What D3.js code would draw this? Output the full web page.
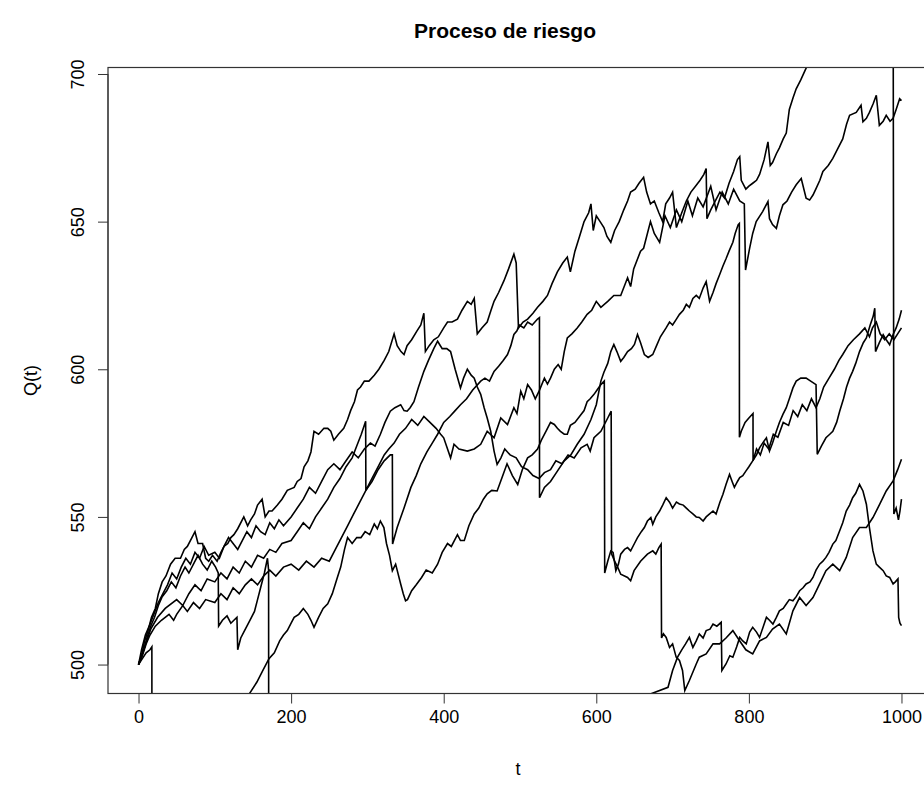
<!DOCTYPE html>
<html>
<head>
<meta charset="utf-8">
<script src="https://cdn.jsdelivr.net/npm/d3@7.9.0/dist/d3.min.js"></script>
<style>
  body { margin: 0; background: #fff; }
  svg text { font-family: "Liberation Sans", Arial, sans-serif; fill: #000; }
</style>
</head>
<body>
<svg id="chart" width="924" height="790"></svg>
<script>
// six sample paths of the risk process, [t, Q(t)]
const pathD = [[0,500],[4,503],[8,508],[12,511],[17,516],[22,519],[26,524],[31,528],[36,530],[42,534],[48,536],[55,536],[60,539],[64,540],[70,543],[74,545],[78,541],[84,541],[88,536],[92,535],[97,537],[103,535],[108,538],[112,540],[117,541],[121,543],[125,544],[130,546],[138,550],[143,547],[147,549],[152,551],[156,554],[162,556],[166,550],[171,552],[175,552],[182,554],[188,556],[195,559],[204,560],[208,562],[213,563],[217,567],[222,569],[226,572],[230,579],[236,578],[243,580],[248,580],[252,579],[256,576],[262,578],[269,580],[274,583],[278,586],[283,589],[287,593],[291,594],[296,596],[302,596],[309,598],[315,600],[322,603],[328,606],[335,612],[339,608],[344,606],[348,605],[352,608],[358,610],[365,613],[370,615],[374,619],[376,606],[381,608],[387,610],[393,611],[400,614],[405,616],[411,616],[418,617],[424,620],[431,623],[436,622],[440,624],[442,618],[444,612],[450,614],[457,616],[462,620],[466,623],[472,626],[479,630],[485,634],[492,639],[495,636],[498,614],[504,616],[510,617],[517,619],[523,621],[530,623],[536,625],[542,629],[549,633],[556,636],[562,638],[566,633],[572,640],[578,645],[584,650],[590,653],[593,656],[596,647],[600,652],[605,650],[610,648],[614,645],[619,643],[624,647],[630,650],[636,654],[641,657],[645,660],[651,661],[656,663],[662,665],[666,660],[671,656],[676,657],[682,653],[687,650],[691,656],[696,658],[700,660],[705,648],[712,653],[718,657],[724,660],[730,662],[736,664],[741,666],[744,668],[745,651],[750,654],[756,657],[762,660],[768,658],[774,663],[780,667],[785,671],[788,672],[790,664],[796,661],[800,662],[805,663],[810,664],[814,666],[820,671],[825,677],[828,669],[831,670],[836,673],[840,675],[845,678],[849,680],[853,688],[858,692],[862,695],[868,698],[875,702],[890,710],[910,718],[930,726],[950,733],[970,740],[989,746],[990,551],[993,553],[996,549],[998,552],[1000,556]];

const pathA = [[0,500],[8,506],[16,512],[25,516],[35,519],[50,522],[58,520],[66,524],[74,527],[82,525],[90,529],[100,528],[108,531],[116,529],[124,533],[132,531],[140,535],[148,533],[156,537],[164,536],[172,539],[180,538],[188,541],[200,542],[208,545],[216,548],[224,546],[232,550],[240,553],[248,556],[256,560],[264,563],[272,567],[280,570],[286,574],[292,578],[297.7,582.4],[298,559],[304,562],[310,565],[316,568],[322,571],[328,573],[335,575],[342,578],[350,580],[358,583],[366,581],[374,584],[382,582],[390,580],[396,578],[400,576.8],[409,570],[413.5,574.6],[420,573],[431,572.3],[440,573],[448.5,574.6],[457,579],[466,576.8],[474.8,583.5],[483.6,581.3],[492,587],[496,585],[501,592.6],[505,590],[510,594.8],[515,593],[520,590],[525,592.6],[532,597],[536,595],[540,597],[545,600],[550,601.6],[554,600],[558,606],[562,610.6],[568,612],[575,614],[581,616],[588,618.6],[594,620],[600,623],[606,621],[615,623],[623,625],[632,625],[641,631],[645,628],[649,634],[658,640],[662,641],[671,650],[676,646],[683,643],[690,652],[697,648],[705,654],[712,650],[720,657],[726,652],[733,658],[740,655],[750,662],[757,654],[765,660],[773,656],[780,661],[788,657],[794,656],[795.6,633.6],[801,641],[805,646],[809.6,650],[818,653.4],[825,656.8],[827,651],[831,649],[836,647.7],[840,652],[844.6,655.7],[850,657],[856,660],[862,662.5],[868.6,664.6],[875,657.9],[879.6,657.3],[884,659],[888,661.2],[893,664],[897,667],[904,669],[910,671.4],[917,675],[923,678],[928,683],[932,686],[940.7,687],[947,689.4],[949.5,683.8],[954,685],[958,687],[963,690],[967,692.8],[971,682.6],[976,684],[980,686],[985,684],[989,685],[993,688],[997.6,691.6],[1000,691]];

const pathB = [[0,500],[5,503],[10,507],[15,510],[22,513],[30,515],[40,517],[46,515],[50,517],[58,520],[64,518],[72,521],[80,519],[88,522],[100,521],[108,524],[116,522],[124,526],[132,524],[140,527],[148,529],[156,527],[164,530],[172,532],[180,530],[190,533],[200,534],[210,532],[220,535],[230,533],[240,536],[250,535],[258,539],[266,543],[274,547],[282,551],[290,555],[298,559],[306,562],[314,566],[322,569],[330,571],[332.7,571],[333,540.8],[339,546.4],[343.6,549.8],[348,553],[357,560],[364,564],[370,568],[378,572],[385,575],[392,578],[400,582],[408,584],[415,586],[422,588],[430,590],[438,593],[448.5,596],[454,597],[460,596],[466,599.3],[472,601],[478,603],[483.6,605],[488,608],[492,611.8],[496,613],[499,615],[505,614],[510,616],[516,615],[523,617],[525.5,617.5],[525.6,556.5],[532,560],[540,562],[549,565.5],[558,569],[566.6,571],[575,574.6],[584,578],[593,583],[600,588],[606,596],[610,599],[615,602],[619,606],[623,608.4],[627,606],[632,602.7],[636,604],[641,606],[646,607],[650,608.4],[654,611.8],[658,609],[663,605],[668,604],[674,605],[679,608],[684,611],[691.5,614],[696,616],[700,615],[705,617],[709,618.6],[714,620],[718,622],[722,621],[726.6,624],[731,625],[735,624],[740,627.5],[744,629.7],[748.5,623],[753,626],[757,629],[761.6,632],[766,635],[770.3,637.6],[774,640],[779,643],[782,646],[786,649],[787.5,649.4],[787.6,577],[790,579],[795,582],[800,583.5],[805.4,585],[805.5,569],[810,573],[815,571],[820,575],[826,573],[832,578],[838,577],[845,582],[852,581],[858,586],[864,584],[870,588],[876,586],[882,590],[888,587],[893,590],[898,594],[905,597],[912,600],[918,603],[923,605],[930,608],[937,610],[945,612],[952,614],[958,611],[962,614],[967,616],[972,612],[978,610],[984,612],[990,610],[995,612],[1000,614]];

const pathC = [[0,500],[5,502],[10,504],[15,505],[17.5,506],[17.6,462],[40,466],[70,472],[100,479],[125,484],[145,490],[155,494],[163,498],[171,502],[178,504],[185,508],[190,510],[195,511.5],[200,514],[204,516],[210,517],[216,519],[222,517],[226,515],[230,512.6],[236,516],[242,519],[248,520.6],[254,524],[260,529],[265,533],[270,539],[274,543],[280,541],[286,543],[291.5,543],[297,545],[303,544],[309,547.6],[313,546],[317,548.6],[321.6,546.4],[325,541],[329,537],[332.7,531.8],[337,534],[343.6,527.3],[347,524],[350,521.6],[352.5,522],[358,525],[364,527],[371,529.5],[377,532],[385,531],[392,534],[398,538],[405,541],[410,540],[418,544],[422,542],[427,542],[433,547],[440,551],[446,553],[452,556],[457,557.8],[463,559],[470,558.8],[476,563],[483,568],[490,564],[497,561],[503,566],[510,570],[516,571],[523,573],[528,576],[534,579],[540,582],[545,581.3],[549,580],[553,579],[558,578],[562,578],[566,581],[572,582],[580,584.7],[584,586],[588,589],[592,590],[597,591.5],[601,593],[606,594.8],[610.5,596],[611,531],[615,535],[619,538.5],[622,538],[625.6,531.8],[629,534],[632,537.4],[637,539],[641,539.6],[645,538.5],[650,541],[654,543],[659,545],[663,546.4],[667,548.6],[671.5,549.8],[674,547.5],[678,550],[683,552],[687,554],[691.6,556.5],[696,555],[700,553],[705,555],[709,554.4],[714,554],[718,553],[722,552],[726.6,551],[731,550],[735,549.8],[740,548.6],[744,550],[748.5,551],[753,552],[757,551],[762,555],[766,557.7],[770,561],[774.6,564.4],[778,562],[781,560],[785,562],[788,563.3],[792,564],[796,565.5],[800,567],[805,569],[810,571],[814,573.4],[818,575],[823,576.8],[827,572.3],[831,575],[836,579],[840,582],[844.6,584.7],[849,587],[853,590],[857.7,593.7],[862,596],[868,597],[875,597],[881,596],[888,594.8],[889.6,571.2],[895,574],[901,576.8],[906,578],[910,579],[915,582],[919,585.8],[924,590],[928,594],[932,597],[936,599.3],[940,602],[945,606],[950,609],[954,610.6],[959,615],[963,618],[965,620.7],[966,606],[971,609],[976,611.7],[980,610],[984.5,608.3],[989,611.8],[993,614],[997,617],[1000,620]];

const pathE = [[0,500],[4,505],[9,510],[14,513],[20,517],[26,521],[32,524],[38,527],[44,531],[50,529],[56,533],[62,536],[68,534],[74,538],[80,536],[86,540],[92,537],[100,538],[106,536],[112,540],[118,543],[124,541],[130,539],[136,542],[142,545],[148,543],[154,547],[160,545],[166,544],[172,548],[178,546],[184,549],[190,547],[200,550],[208,553],[216,556],[224,560],[232,558],[240,562],[248,566],[256,568],[264,566],[272,569],[280,572],[288,570],[296,573],[304,575],[310,574],[317,578],[323,582],[330,585.8],[336,587],[343.6,588],[348,586],[352,585.8],[356,587],[361,589],[367,594],[374,599.3],[380,603],[387,607],[392,609.5],[398,607],[404,607],[409,606],[415,600],[422,593.7],[426,597],[431,600],[436,598],[440,597],[444,594],[448.5,591.5],[453,587],[457,583.5],[461.6,579],[466,572.3],[470,567.8],[475,570],[480,573],[487,571],[495,570],[502,567],[510,566],[517,564],[525,563],[532,565],[540,566],[547,569],[555,568],[563,571],[571,570],[580,573.4],[588,574.6],[592,572.3],[597,576.8],[606,579],[615,583.5],[619.5,585.8],[620,537.5],[624,535],[628,533],[632,530.6],[641,529.5],[645,528.4],[649.5,531.8],[658,535],[667,537.4],[674,538.5],[678,537.4],[682,539.6],[685,540.8],[685.5,509],[688,510.4],[691.6,509.2],[696,505.8],[700,507],[704.7,502.5],[709,501.4],[713,498],[716,491.2],[722,494.6],[731,500.2],[735,502.5],[744,503.6],[753,507],[761.6,507],[770,509],[779,511.5],[788,508],[796,505],[805,503.6],[814,508],[823,509.2],[831,512],[840,513.7],[849,510.4],[857.7,518.2],[866.5,522.7],[875,520],[884,522.7],[892.7,527.3],[901,531.8],[910,534],[919,531.8],[927.6,536.3],[936,543],[945,546.4],[954,546.4],[962.6,549.8],[971.5,554.3],[980,558.8],[989,562.2],[995,566],[1000,569.5]];

const pathF = [[0,500],[3,502],[7,505],[11,509],[16,513],[21,516],[26,520],[31,523],[37,525],[43,528],[49,526],[55,530],[61,533],[66,531],[72,534],[78,537],[84,534],[90,532],[96,535],[101,533],[104.5,531],[105,513],[110,515],[116,516.5],[121,514],[125,515],[129,516],[130,505],[134,509],[140,512],[146,515],[152,518],[156,522],[160,526],[165,531],[169,536],[170.5,532],[170.6,472],[250,474],[350,478],[450,481],[550,484],[640,487],[694,492.3],[700,498],[706.5,502.5],[712,505],[717,507],[722,509.2],[726.6,505.8],[731,508],[735,510.4],[740,509],[744,511.5],[749,512],[753,513.7],[758,513],[763.7,514.3],[764.6,498],[770,500.2],[775,503],[779,502.5],[784,506],[788,509.2],[792,508],[796.5,507],[801,511],[805,512.6],[810,511],[814,509.2],[819,513],[823,516],[827,515],[831.5,513.7],[836,516],[840,518.2],[845,519],[849,520.5],[853,522],[857.7,521.6],[862,523],[866.5,525],[871,526],[875,527.3],[880,528],[884,529.5],[888,532],[892.7,534],[897,535],[901,536.3],[905,538],[910,540.8],[914,542],[919,545.3],[923,548],[927.6,552],[932,554],[936,556.5],[940,558],[945,561],[947,560],[949.5,558.8],[954,554.3],[958,546.4],[962.6,538.5],[967,534],[971,533],[976,531.8],[980,530],[984.5,529.5],[989,527.3],[992,528],[995.4,529],[996.3,516],[998,514],[1000,513.2]];

const paths = [pathD, pathA, pathB, pathC, pathE, pathF];

const xTicks = [0, 200, 400, 600, 800, 1000];
const yTicks = [500, 550, 600, 650, 700];

const svg = d3.select('#chart');

// plot box as R draws it, the right side runs past the picture edge
const box = { left: 108, right: 932, top: 67.5, bottom: 693.5 };

const x = d3.scaleLinear().domain([-40, 1040]).range([box.left, box.right]);
const y = d3.scaleLinear().domain([490.2, 702.2]).range([box.bottom, box.top]);

svg.append('clipPath').attr('id', 'plotclip')
  .append('rect')
  .attr('x', box.left).attr('y', box.top)
  .attr('width', box.right - box.left).attr('height', box.bottom - box.top);

const line = d3.line()
  .x(d => x(d[0]))
  .y(d => y(d[1]));

svg.append('g')
  .attr('clip-path', 'url(#plotclip)')
  .selectAll('path')
  .data(paths)
  .join('path')
  .attr('d', line)
  .attr('fill', 'none')
  .attr('stroke', '#000')
  .attr('stroke-width', 1.6)
  .attr('stroke-linejoin', 'miter');

// box
svg.append('rect')
  .attr('x', box.left).attr('y', box.top)
  .attr('width', box.right - box.left).attr('height', box.bottom - box.top)
  .attr('fill', 'none')
  .attr('stroke', '#333')
  .attr('stroke-width', 1.2);

// x axis
const xAxis = d3.axisBottom(x).tickValues(xTicks).tickSize(10).tickPadding(7).tickFormat(d3.format('d'));
const gx = svg.append('g')
  .attr('transform', `translate(0,${box.bottom})`)
  .call(xAxis);
gx.select('.domain').attr('d', `M${x(0)},0H${x(1000)}`).attr('stroke', '#333');
gx.selectAll('.tick line').attr('stroke', '#333');
gx.selectAll('.tick text').attr('font-size', 18).style('font-family', '"Liberation Sans", Arial, sans-serif');

// y axis, labels turned like R
const yAxis = d3.axisLeft(y).tickValues(yTicks).tickSize(10).tickFormat(d3.format('d'));
const gy = svg.append('g')
  .attr('transform', `translate(${box.left},0)`)
  .call(yAxis);
gy.select('.domain').attr('d', `M0,${y(500)}V${y(700)}`).attr('stroke', '#333');
gy.selectAll('.tick line').attr('stroke', '#333');
gy.selectAll('.tick text')
  .attr('font-size', 18)
  .style('font-family', '"Liberation Sans", Arial, sans-serif')
  .attr('x', null).attr('dy', null)
  .attr('text-anchor', 'middle')
  .attr('transform', 'translate(-24,0) rotate(-90)');

// titles
svg.append('text')
  .attr('x', 505).attr('y', 38)
  .attr('text-anchor', 'middle')
  .attr('font-size', 21)
  .attr('font-weight', 'bold')
  .text('Proceso de riesgo');

svg.append('text')
  .attr('x', 518).attr('y', 775)
  .attr('text-anchor', 'middle')
  .attr('font-size', 18)
  .text('t');

svg.append('text')
  .attr('transform', `translate(37,${(box.top + box.bottom) / 2}) rotate(-90)`)
  .attr('text-anchor', 'middle')
  .attr('font-size', 18)
  .text('Q(t)');
</script>
</body>
</html>
